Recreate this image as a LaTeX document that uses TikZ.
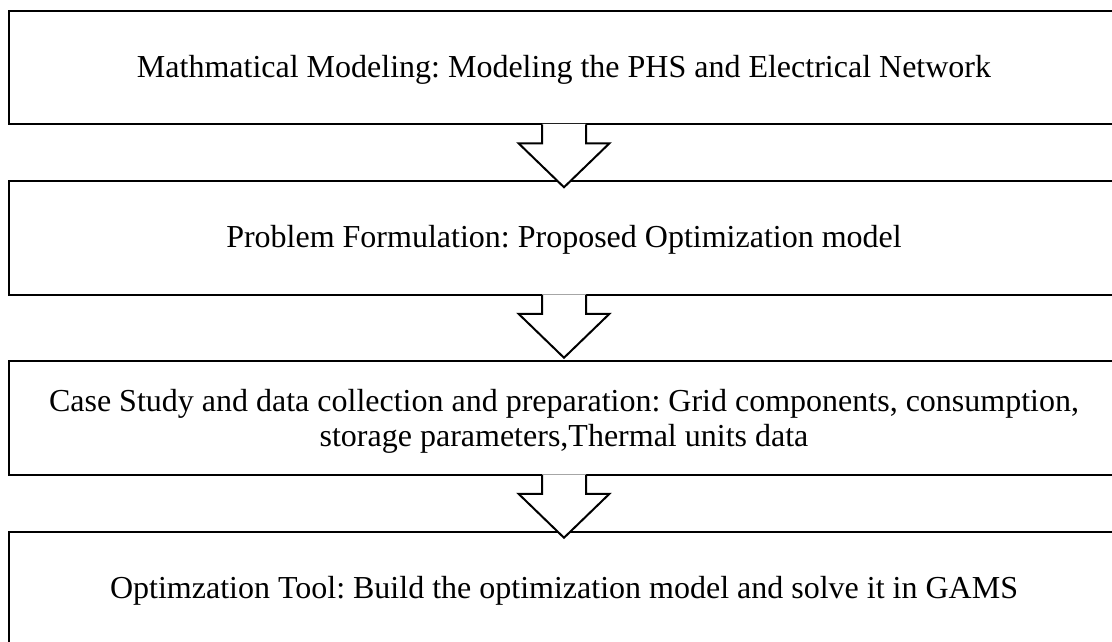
\documentclass[tikz,border=0pt]{standalone}
\usepackage{fontspec}
\setmainfont{Liberation Serif}
\usetikzlibrary{calc}
\frenchspacing
\tikzset{
  stage/.style={draw=black, line width=2pt, fill=white, minimum width=1110pt,
    minimum height=113.5pt, inner sep=0pt, align=center,
    font=\fontsize{32}{34.5}\selectfont\frenchspacing, text height=19pt, text depth=0pt},
  twoline/.style={text height=56pt, text depth=0pt},
  flowarrow/.style={draw=black, line width=2pt, line join=miter},
  flowfill/.style={fill=white, draw=none}
}
\begin{document}
\begin{tikzpicture}[x=1pt, y=-1pt]
\useasboundingbox (0,0) rectangle (1112,641);
\node[stage] (b1) at (564,67.5) {Mathmatical Modeling: Modeling the PHS and Electrical Network};
\node[stage] (b2) at (564,238) {Problem Formulation: Proposed Optimization model};
\node[stage, twoline] (b3) at (564,418) {Case Study and data collection and preparation: Grid components, consumption,\\ storage parameters,Thermal units data};
\node[stage] (b4) at (564,589) {Optimzation Tool: Build the optimization model and solve it in GAMS};
\foreach \a in {b1,b2,b3}{
  \path[flowfill] ($(\a.south)+(-22,-1.5)$) -- ($(\a.south)+(-22,18)$) -- ($(\a.south)+(-45.5,18)$) -- ($(\a.south)+(0,62)$) -- ($(\a.south)+(45.5,18)$) -- ($(\a.south)+(22,18)$) -- ($(\a.south)+(22,-1.5)$) -- cycle;
  \draw[flowarrow] ($(\a.south)+(-22,-1)$) -- ($(\a.south)+(-22,18)$) -- ($(\a.south)+(-45.5,18)$) -- ($(\a.south)+(0,62)$) -- ($(\a.south)+(45.5,18)$) -- ($(\a.south)+(22,18)$) -- ($(\a.south)+(22,-1)$);
}
\end{tikzpicture}
\end{document}
